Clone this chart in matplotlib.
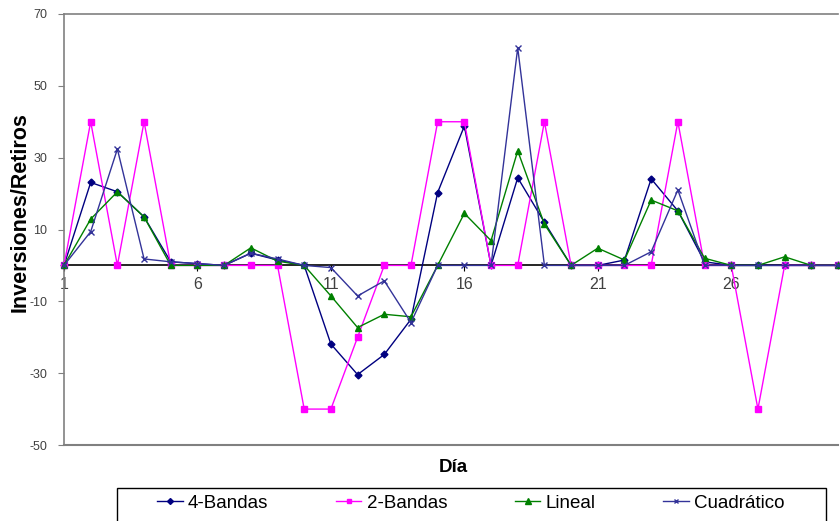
import matplotlib
matplotlib.use("Agg")
import matplotlib.pyplot as plt
from matplotlib.lines import Line2D
from matplotlib.patches import Rectangle

plt.rcParams['font.family'] = ['Liberation Sans', 'DejaVu Sans']

days = list(range(1, 31))
bandas4 = [0, 23.1, 20.5, 13.5, 1.0, 0.5, 0, 3.4, 1.5, 0,
           -21.9, -30.4, -24.8, -15.0, 20.3, 38.8, 0, 24.4, 12.0, 0,
           0, 1.5, 24.1, 15.2, 1.0, 0, 0, 0, 0, 0]
bandas2 = [0, 40, 0, 40, 0, 0, 0, 0, 0, -40,
           -40, -20, 0, 0, 40, 40, 0, 0, 40, 0,
           0, 0, 0, 40, 0, 0, -40, 0, 0, 0]
lineal = [0, 12.9, 20.5, 13.5, 0, 0, 0, 4.9, 1.2, 0,
          -8.5, -17.3, -13.6, -14.3, 0, 14.5, 6.9, 31.9, 11.5, 0,
          4.8, 1.5, 18.2, 15.2, 2.0, 0, 0, 2.4, 0, 0]
cuadratico = [0, 9.4, 32.4, 1.8, 1.0, 0.5, 0, 3.4, 1.8, 0,
              -0.6, -8.5, -4.3, -15.9, 0, 0, 0, 60.6, 0, 0,
              0, 0, 3.8, 21.0, 0, 0, 0, 0, 0, 0]
yticks = [-50, -30, -10, 10, 30, 50, 70]
xticks = [1, 6, 11, 16, 21, 26]

W, H = 840, 521
fig = plt.figure(figsize=(8.4, 5.21), dpi=100)
ax = fig.add_axes([64/W, 76/H, 774/W, 431/H])

series = [
    ("4-Bandas", bandas4, '#000080', 'D', 3.5),
    ("2-Bandas", bandas2, '#FF00FF', 's', 4),
    ("Lineal", lineal, '#008000', '^', 4.5),
    ("Cuadrático", cuadratico, '#333399', 'x', 4),
]
handles = []
for name, vals, col, mk, ms in series:
    ax.plot(days, vals, color=col, lw=1, marker=mk, ms=ms, mec=col, mfc=col,
            mew=1, zorder=3, clip_on=False)
    handles.append(Line2D([0], [0], color=col, lw=1, marker=mk, ms=ms - 0.5,
                          mec=col, mfc=col, label=name))

ax.set_xlim(1, 30)
ax.set_ylim(-50, 70)
ax.set_yticks(yticks)
ax.set_yticklabels([str(t) for t in yticks])
ax.tick_params(axis='y', direction='out', length=4, color='#808080',
               labelsize=9, labelcolor='#404040', pad=8)

for s in ['top', 'left', 'right']:
    ax.spines[s].set_color('#808080')
    ax.spines[s].set_linewidth(1.2)
ax.spines['right'].set_visible(False)
ax.spines['bottom'].set_position(('data', 0))
ax.spines['bottom'].set_color('black')
ax.spines['bottom'].set_linewidth(1.2)
ax.axhline(-50, color='#808080', lw=1.5, clip_on=False)

ax.set_xticks(xticks)
ax.set_xticklabels([str(t) for t in xticks])
ax.tick_params(axis='x', direction='out', length=4, color='black',
               labelsize=11.5, labelcolor='#404040', pad=4)

fig.text(20/W, 1 - 212/H, "Inversiones/Retiros", fontsize=15.5,
         fontweight='bold', rotation=90, ha='center', va='center')
fig.text(453/W, 1 - 468/H, "Día", fontsize=13.5, fontweight='bold',
         ha='center', va='center')

leg = fig.legend(handles=handles, loc='center', ncol=4,
                 bbox_to_anchor=(471/W, 1 - 503/H),
                 frameon=False, fontsize=13.5, handlelength=1.35,
                 handletextpad=0.3, columnspacing=3.6, borderaxespad=0)
fig.patches.append(Rectangle((117/W, -0.05), 709/W, 0.05 + 33/H,
                             transform=fig.transFigure, fill=False,
                             edgecolor='black', lw=1))

fig.savefig("out.png", dpi=100)
